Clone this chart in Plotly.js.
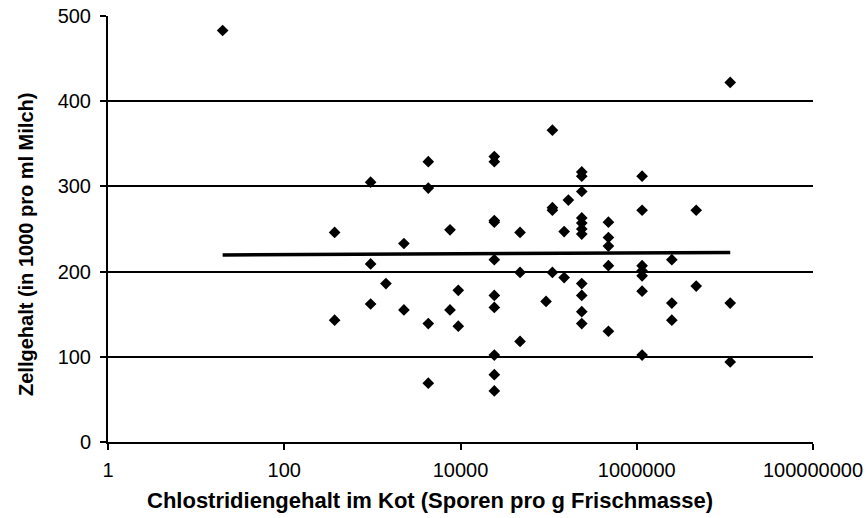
<!DOCTYPE html>
<html>
<head>
<meta charset="utf-8">
<script src="https://cdn.plot.ly/plotly-3.0.1.min.js"></script>
<style>html,body{margin:0;padding:0;background:#fff;}#chart{width:867px;height:518px;}</style>
</head>
<body>
<div id="chart"></div>
<script>
// Chlostridien (spores per g fresh mass) and cell count (1000 per ml milk)
const sporeCounts = [
  20, 955, 4310, 4310, 373, 2280, 955, 1425, 955, 2280,
  373, 4310, 4310, 7600, 9440, 9440, 7600,
  24200, 24200, 24200, 24200, 24200, 24200, 24200, 24200, 24200, 24200,
  47400, 47400, 47400, 93500, 110400, 110400, 110400, 110400,
  150000, 150000, 167500,
  237700, 237700, 237700, 237700, 237700, 237700, 237700, 237700, 237700, 237700, 237700,
  477000, 477000, 477000, 477000, 477000,
  1150000, 1150000, 1150000, 1150000, 1150000, 1150000, 1150000,
  2500000, 2500000, 2500000, 4730000, 4730000,
  11500000, 11500000, 11500000
];
const cellCounts = [
  483, 305, 329, 298, 246, 233, 209, 186, 162, 155,
  143, 139, 69, 249, 178, 136, 155,
  335, 329, 260, 258, 214, 172, 158, 102, 79, 60,
  246, 199, 118, 165, 366, 275, 272, 199,
  247, 193, 284,
  317, 312, 294, 263, 257, 250, 244, 186, 172, 153, 139,
  258, 240, 230, 207, 130,
  312, 272, 207, 201, 195, 177, 102,
  214, 163, 143, 272, 183,
  422, 163, 94
];
const trendX = [20, 11500000];
const trendY = [219.6, 222.3];
const xTickVals = [1, 100, 10000, 1000000, 100000000];
const xTickText = ['1', '100', '10000', '1000000', '100000000'];
const yTickVals = [0, 100, 200, 300, 400, 500];
const xTitle = 'Chlostridiengehalt im Kot (Sporen pro g Frischmasse)';
const yTitle = 'Zellgehalt (in 1000 pro ml Milch)';

const traces = [
  {
    x: sporeCounts, y: cellCounts, type: 'scatter', mode: 'markers',
    marker: {symbol: 'diamond', size: 9, color: '#000'},
    hoverinfo: 'x+y', showlegend: false
  },
  {
    x: trendX, y: trendY, type: 'scatter', mode: 'lines',
    line: {color: '#000', width: 3.5}, showlegend: false, hoverinfo: 'skip'
  }
];

const fontFam = '"Liberation Sans", Arial, sans-serif';
const layout = {
  width: 867, height: 518,
  margin: {l: 108, r: 54, t: 16, b: 76, pad: 0},
  paper_bgcolor: '#fff', plot_bgcolor: '#fff',
  font: {family: fontFam, color: '#000', size: 20},
  xaxis: {
    type: 'log', range: [0, 8],
    tickvals: xTickVals, ticktext: xTickText,
    ticks: 'outside', ticklen: 6, tickwidth: 2, tickcolor: '#000',
    ticklabelstandoff: 3,
    showline: true, linecolor: '#000', linewidth: 2,
    showgrid: false, zeroline: false,
    tickfont: {family: fontFam, size: 20, color: '#000'}
  },
  yaxis: {
    range: [0, 500], tickvals: yTickVals,
    ticks: 'outside', ticklen: 6, tickwidth: 2, tickcolor: '#000',
    ticklabelstandoff: 5,
    showline: true, linecolor: '#000', linewidth: 2,
    showgrid: true, gridcolor: '#000', gridwidth: 2,
    zeroline: false,
    tickfont: {family: fontFam, size: 20, color: '#000'}
  },
  annotations: [
    {text: '<b>' + xTitle + '</b>', xref: 'paper', yref: 'paper',
     x: (430 - 108) / 705, y: -(501 - 442) / 426, xanchor: 'center', yanchor: 'middle',
     showarrow: false, font: {family: fontFam, size: 22, color: '#000'}},
    {text: '<b>' + yTitle + '</b>', xref: 'paper', yref: 'paper',
     x: -(108 - 26) / 705, y: (442 - 245) / 426, xanchor: 'center', yanchor: 'middle',
     textangle: -90,
     showarrow: false, font: {family: fontFam, size: 20, color: '#000'}}
  ]
};

Plotly.newPlot('chart', traces, layout, {displayModeBar: false, staticPlot: true});
</script>
</body>
</html>
